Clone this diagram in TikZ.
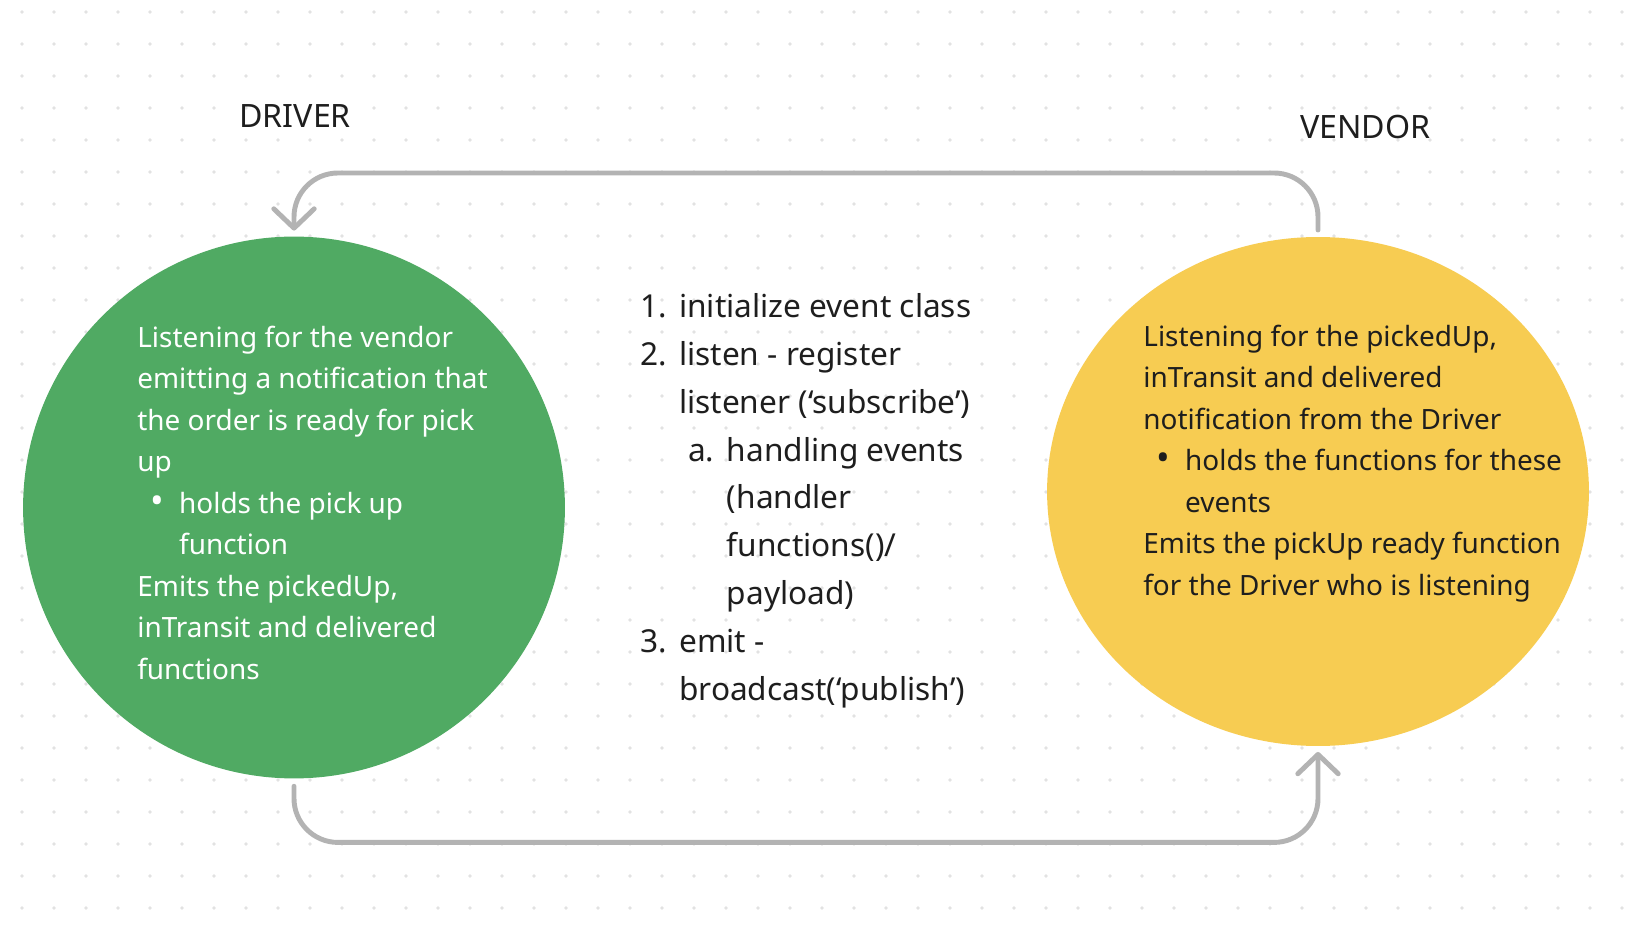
\documentclass[tikz,border=0pt]{standalone}
\usepackage{fontspec}
\setmainfont{Noto Sans}
\usetikzlibrary{arrows.meta,shapes.geometric}
\definecolor{drvgreen}{HTML}{50AA63}
\definecolor{vndyellow}{HTML}{F7CC52}
\definecolor{inkdark}{HTML}{1E1E1E}
\definecolor{linegray}{HTML}{B3B3B3}
\definecolor{dotgray}{HTML}{E2E2E2}

\tikzset{
  bubble/.style={draw=none, inner sep=0pt, outer sep=0pt},
  flow/.style={draw=linegray, line width=2.8pt, line cap=round, rounded corners=25pt,
    -{Straight Barb[length=11pt,width=23pt,round]}},
  body/.style={anchor=base west, align=left, inner sep=0pt, font=\fontsize{15.9}{23.6}\selectfont},
  title/.style={anchor=base west, inner sep=0pt, text=inkdark, font=\fontsize{18.3}{20}\selectfont},
}
\newcommand{\blt}{\makebox[23.8pt][l]{\hspace*{7.5pt}\scalebox{1.3}{\textbullet}}}
\newcommand{\cont}{\hspace*{23.8pt}}

\begin{document}
\begin{tikzpicture}[x=0.02cm,y=-0.02cm]
  % Fondo y cuadricula de puntos
  \useasboundingbox[fill=white] (0,0) rectangle (1652,928);
  \foreach \i in {0,...,50}
    \foreach \j in {0,...,28}
      \fill[dotgray] (22+32*\i,12+32*\j) circle (1.1pt);
  % Titulos
  \node[title] (driver) at (239,128) {DRIVER};
  \node[title] (vendor) at (1300,139) {VENDOR};
  % Burbujas
  \node[bubble, circle, fill=drvgreen, minimum size=308.4pt] (drv) at (294,507.5) {};
  \node[bubble, ellipse, fill=vndyellow, minimum width=308.4pt, minimum height=289.7pt] (vnd) at (1318,491.5) {};
  % Textos de las burbujas (anclados en la ultima linea)
  \node[body, text=white] (drvtext) at (137,679) {%
    Listening for the vendor\\
    emitting a notification that\\
    the order is ready for pick\\
    up\\
    \blt holds the pick up\\
    \cont function\\
    Emits the pickedUp,\\
    inTransit and delivered\\
    functions};
  \node[body, text=inkdark] (vndtext) at (1143,595) {%
    Listening for the pickedUp,\\
    inTransit and delivered\\
    notification from the Driver\\
    \blt holds the functions for these\\
    \cont events\\
    Emits the pickUp ready function\\
    for the Driver who is listening};
  % Pasos al centro
  \node[body, text=inkdark, font=\fontsize{18}{27.2}\selectfont] (steps) at (640,700) {%
    \makebox[22.1pt][l]{1.}initialize event class\\
    \makebox[22.1pt][l]{2.}listen - register\\
    \hspace*{22.1pt}listener (‘subscribe’)\\
    \hspace*{27.2pt}\makebox[22.1pt][l]{a.}handling events\\
    \hspace*{49.3pt}(handler\\
    \hspace*{49.3pt}functions()/\\
    \hspace*{49.3pt}payload)\\
    \makebox[22.1pt][l]{3.}emit -\\
    \hspace*{22.1pt}broadcast(‘publish’)};
  % Conectores
  \draw[flow, shorten <=4pt, shorten >=3.4pt] (vnd.north) -- ++(0,-64) -| (drv.north);
  \draw[flow, shorten <=4.5pt, shorten >=3.4pt] (drv.south) -- ++(0,64) -| (vnd.south);
\end{tikzpicture}
\end{document}
